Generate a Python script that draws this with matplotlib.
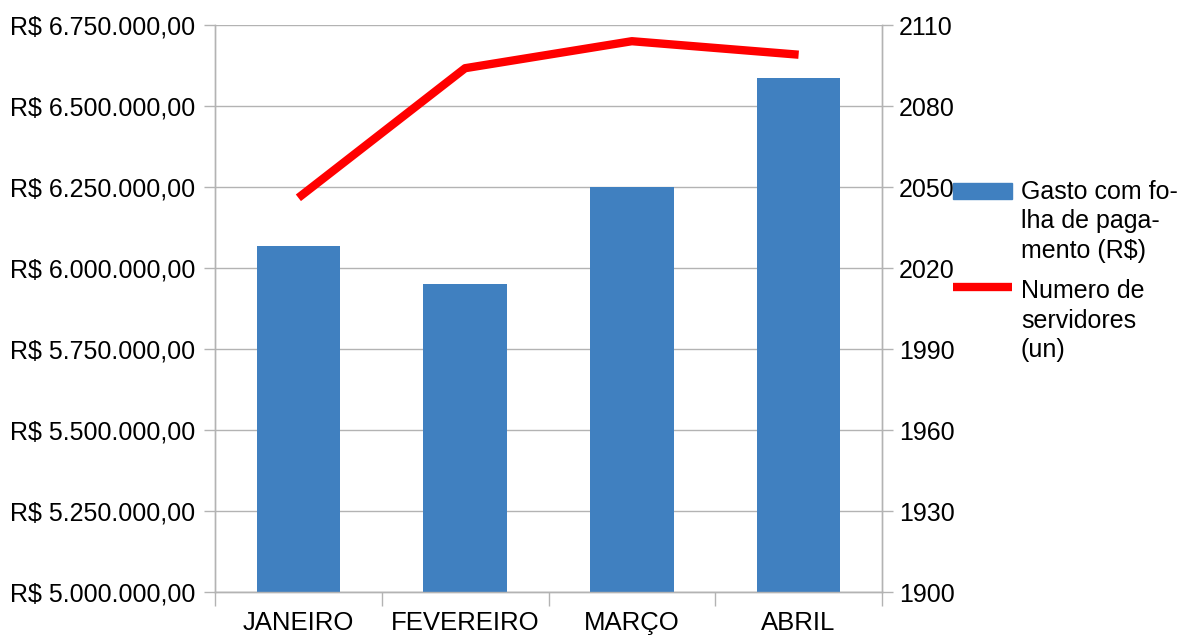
import matplotlib.pyplot as plt
import matplotlib.ticker as mticker
from matplotlib.patches import Rectangle
from matplotlib.lines import Line2D

plt.rcParams['font.family'] = ['Liberation Sans', 'DejaVu Sans']

# Monthly data
meses = ['JANEIRO', 'FEVEREIRO', 'MARÇO', 'ABRIL']
gasto_folha = [6068000, 5951000, 6250000, 6587000]
num_servidores = [2046, 2094, 2104, 2099]

legenda_gasto = ['Gasto com fo-', 'lha de paga-', 'mento (R$)']
legenda_servidores = ['Numero de', 'servidores', '(un)']

grid_color = '#b3b3b3'
bar_color = '#4080c0'
line_color = '#ff0000'
W, H = 1186, 639

fig = plt.figure(figsize=(W / 100, H / 100), dpi=100)
ax = fig.add_axes([215 / W, 1 - 592 / H, 667 / W, 567 / H])
ax2 = ax.twinx()

x = range(len(meses))
ax.bar(x, gasto_folha, width=0.5, color=bar_color, zorder=3)
ax2.plot(x, num_servidores, color=line_color, linewidth=6, solid_capstyle='butt', zorder=4)

ax.set_xlim(-0.5, len(meses) - 0.5)
ax.set_ylim(5000000, 6750000)
ax2.set_ylim(1900, 2110)

ax.set_yticks(range(5000000, 6750001, 250000))
ax2.set_yticks(range(1900, 2111, 30))


def reais(v, pos):
    s = f'{v:,.2f}'.replace(',', 'X').replace('.', ',').replace('X', '.')
    return 'R$ ' + s


ax.yaxis.set_major_formatter(mticker.FuncFormatter(reais))

ax.set_xticks(list(x))
ax.set_xticklabels(meses)
ax.set_xticks([i + 0.5 for i in range(-1, len(meses))], minor=True)
ax.tick_params(axis='x', which='major', length=0, pad=14, labelsize=18.5)
ax.tick_params(axis='x', which='minor', length=10, color=grid_color, width=1)
ax.tick_params(axis='y', length=8, color=grid_color, width=1, labelsize=18, pad=6)
ax2.tick_params(axis='y', length=8, color=grid_color, width=1, labelsize=18, pad=4)

ax.yaxis.grid(True, color=grid_color, linewidth=1, zorder=0)
ax.set_axisbelow(True)

for a in (ax, ax2):
    a.spines['top'].set_visible(False)
    for side in ('left', 'right', 'bottom'):
        a.spines[side].set_color(grid_color)
        a.spines[side].set_linewidth(1)

# Legend on the right, handle level with the first line of each label
fig.add_artist(Rectangle((953 / W, 1 - 199 / H), 59 / W, 16 / H,
                         transform=fig.transFigure, color=bar_color))
fig.add_artist(Line2D([953 / W, 1012 / W], [1 - 287.5 / H] * 2,
                      transform=fig.transFigure, color=line_color, linewidth=6,
                      solid_capstyle='butt'))
for i, linha in enumerate(legenda_gasto):
    fig.text(1021 / W, 1 - (199 + 29.5 * i) / H, linha, fontsize=18, va='baseline')
for i, linha in enumerate(legenda_servidores):
    fig.text(1021 / W, 1 - (298 + 29.5 * i) / H, linha, fontsize=18, va='baseline')

fig.savefig('out.png', dpi=100)
